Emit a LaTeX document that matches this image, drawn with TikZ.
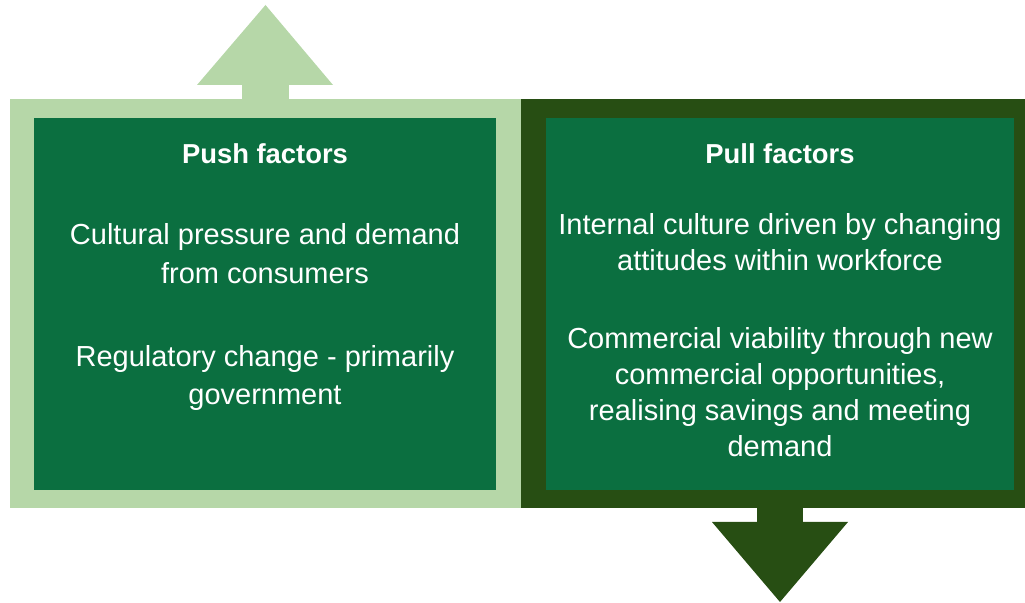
\documentclass[tikz,border=0pt]{standalone}
\usepackage{fontspec}
\setmainfont{Liberation Sans}
\usetikzlibrary{positioning}
\definecolor{pushlight}{HTML}{B6D7A8}
\definecolor{pulldark}{HTML}{274E13}
\definecolor{boxgreen}{HTML}{0B6F40}
\begin{document}
\begin{tikzpicture}[x=0.5pt, y=-0.5pt,
    factorbox/.style={fill=boxgreen},
    pushtext/.style={text=white, align=center, font=\fontsize{14.5}{19.4}\selectfont},
    pulltext/.style={text=white, align=center, font=\fontsize{14.5}{18}\selectfont},
    headtext/.style={text=white, font=\fontsize{13.7}{19}\selectfont\bfseries}]
	\useasboundingbox (0,0) rectangle (1025,603);

	% push side
	\fill[pushlight] (9.5,99) rectangle (521,508);
	\fill[pushlight] (242,84) rectangle (289,100);
	\fill[pushlight] (197,85) -- (265.5,5) -- (333,85) -- cycle;
	\fill[factorbox] (34,118) rectangle (496,490);

	% pull side
	\fill[pulldark] (521,99) rectangle (1025,508);
	\fill[pulldark] (757,507) rectangle (803,523);
	\fill[pulldark] (712,522) -- (780,602) -- (848,522) -- cycle;
	\fill[factorbox] (546,118) rectangle (1014,490);

	\node[headtext] (pushhead) at (265,154) {Push factors};
	\node[pushtext] (push1) at (265,254) {Cultural pressure and demand\\from consumers};
	\node[pushtext] (push2) at (265,378) {Regulatory change - primarily\\government};

	\node[headtext] (pullhead) at (780,154) {Pull factors};
	\node[pulltext] (pull1) at (780,242) {Internal culture driven by changing\\attitudes within workforce};
	\node[pulltext] (pull2) at (780,392) {Commercial viability through new\\commercial opportunities,\\realising savings and meeting\\demand};
\end{tikzpicture}
\end{document}
